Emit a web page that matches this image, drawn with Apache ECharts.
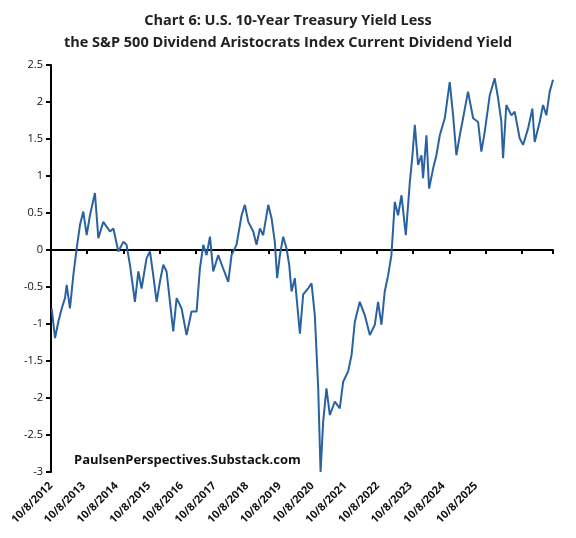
<!DOCTYPE html>
<html>
<head>
<meta charset="utf-8">
<script src="https://cdn.jsdelivr.net/npm/echarts@6/dist/echarts.min.js"></script>
<style>
  html, body { margin: 0; padding: 0; background: #fff; }
  #chart { width: 576px; height: 538px; }
</style>
</head>
<body>
<div id="chart"></div>
<script>
// Trading-day index from 10/8/2012 (250 days per year label)
const dayIndex = [
  5, 31, 56, 82, 107, 120, 145, 171, 196, 222, 247, 273, 298, 336, 362, 400, 451, 477,
  515, 553, 578, 604, 642, 668, 693, 731, 757, 782, 808, 833, 859, 884, 910, 935, 961,
  999, 1037, 1075, 1114, 1139, 1165, 1190, 1216, 1241, 1279, 1317, 1356, 1381, 1419,
  1458, 1483, 1509, 1547, 1572, 1598, 1623, 1662, 1687, 1712, 1730, 1751, 1776, 1802,
  1822, 1840, 1865, 1891, 1904, 1929, 1967, 1993, 2018, 2044, 2062, 2082, 2107, 2133,
  2171, 2209, 2235, 2273, 2299, 2324, 2362, 2400, 2439, 2477, 2502, 2528, 2553, 2579,
  2604, 2630, 2655, 2681, 2714, 2745, 2765, 2783, 2808, 2834, 2846, 2872, 2892, 2923,
  2948, 2974, 3012, 3050, 3076, 3101, 3127, 3152, 3190, 3229, 3267, 3292, 3318, 3356,
  3394, 3420, 3445, 3458, 3483, 3522, 3547, 3585, 3611, 3649, 3682, 3700, 3738, 3764,
  3789, 3815, 3840
];
// 10-year Treasury yield minus Aristocrats dividend yield (percentage points)
const spread = [
  -0.79, -1.19, -0.97, -0.79, -0.65, -0.47, -0.79, -0.34, 0.02, 0.34, 0.52, 0.2, 0.47, 0.77, 0.16, 0.38, 0.25, 0.29,
  -0.02, 0.11, 0.07, -0.2, -0.7, -0.29, -0.52, -0.11, -0.02, -0.34, -0.7, -0.43, -0.2, -0.29, -0.7, -1.1, -0.65,
  -0.79, -1.15, -0.83, -0.83, -0.25, 0.07, -0.07, 0.18, -0.29, -0.07, -0.25, -0.43, -0.07, 0.07,
  0.47, 0.61, 0.38, 0.25, 0.07, 0.29, 0.2, 0.61, 0.43, 0.11, -0.38, -0.07, 0.18, 0.02,
  -0.2, -0.56, -0.38, -0.88, -1.13, -0.6, -0.52, -0.45, -0.88, -1.87, -3.0, -2.32, -1.87, -2.23,
  -2.05, -2.14, -1.78, -1.64, -1.42, -0.97, -0.7, -0.88, -1.15, -1.01, -0.7, -1.01, -0.56, -0.34,
  -0.07, 0.65, 0.47, 0.74, 0.2, 0.92, 1.28, 1.69, 1.15, 1.28, 0.97, 1.55, 0.83, 1.1,
  1.28, 1.55, 1.78, 2.27, 1.82, 1.28, 1.55, 1.78, 2.14, 1.78, 1.73, 1.33, 1.6, 2.09,
  2.32, 2.05, 1.73, 1.24, 1.96, 1.82, 1.87, 1.51, 1.42, 1.64, 1.91, 1.46, 1.73, 1.96,
  1.82, 2.14, 2.3
];
const firstYear = 2012;
const lastYear = 2025;
const daysPerLabel = 250;
const daysPerTick = 277;
const xMax = 3840;

const chart = echarts.init(document.getElementById('chart'), null, { renderer: 'canvas' });
const font = '"Open Sans", "Noto Sans", sans-serif';

chart.setOption({
  backgroundColor: '#fff',
  animation: false,
  title: {
    text: 'Chart 6: U.S. 10-Year Treasury Yield Less\nthe S&P 500 Dividend Aristocrats Index Current Dividend Yield',
    left: 'center', top: 5,
    textStyle: { fontFamily: font, fontSize: 14.5, fontWeight: 'bold', color: '#222', lineHeight: 22 }
  },
  graphic: [{
    type: 'text', left: 74, top: 454,
    style: { text: 'PaulsenPerspectives.Substack.com', font: 'bold 13px ' + font, fill: '#111' }
  }],
  grid: { left: 51, right: 23, top: 65, bottom: 66 },
  xAxis: [{
    type: 'value', min: 0, max: xMax, interval: daysPerTick,
    axisLine: { onZero: true, lineStyle: { color: '#000', width: 2 } },
    axisTick: { show: true, length: 4, inside: false, lineStyle: { color: '#000', width: 2 } },
    axisLabel: { show: false },
    splitLine: { show: false }
  }, {
    type: 'value', min: 0, max: xMax, interval: daysPerLabel, position: 'bottom',
    axisLine: { show: false, onZero: false }, axisTick: { show: false }, splitLine: { show: false },
    axisLabel: {
      rotate: 45, margin: 12, fontFamily: font, fontSize: 11, fontWeight: 'bold', color: '#111',
      formatter: v => {
        const y = firstYear + Math.round(v / daysPerLabel);
        return y <= lastYear ? '10/8/' + y : '';
      }
    }
  }],
  yAxis: {
    type: 'value', min: -3, max: 2.5, interval: 0.5,
    axisLine: { show: true, lineStyle: { color: '#000', width: 2 } },
    axisTick: { show: true, length: 5, lineStyle: { color: '#000', width: 2 } },
    axisLabel: { fontFamily: font, fontSize: 11, color: '#111', margin: 8 },
    splitLine: { show: false }
  },
  series: [{
    type: 'line', xAxisIndex: 0, showSymbol: false,
    data: dayIndex.map((d, i) => [d, spread[i]]),
    lineStyle: { color: '#2A62A0', width: 2 }
  }]
});
</script>
</body>
</html>
